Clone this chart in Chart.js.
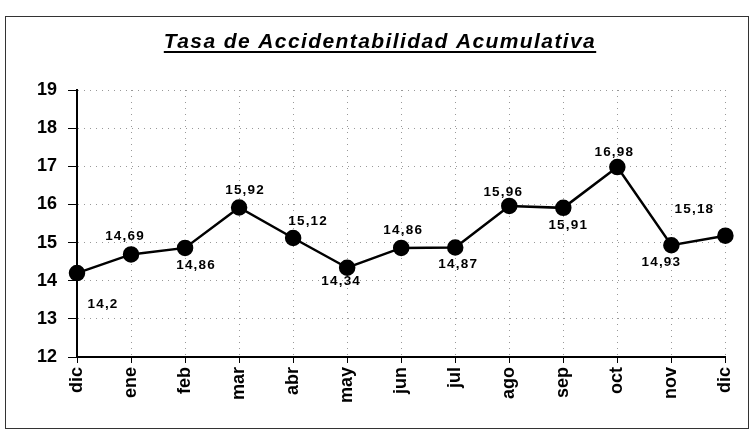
<!DOCTYPE html>
<html>
<head>
<meta charset="utf-8">
<script src="https://cdn.jsdelivr.net/npm/chart.js"></script>
<style>
  html, body { margin: 0; padding: 0; background: #fff; }
  #wrap { width: 751px; height: 436px; position: relative; }
</style>
</head>
<body>
<div id="wrap"><canvas id="tasaChart" width="751" height="436"></canvas></div>
<script>
// data
const chartTitle = 'Tasa de Accidentabilidad Acumulativa';
const months = ['dic', 'ene', 'feb', 'mar', 'abr', 'may', 'jun', 'jul', 'ago', 'sep', 'oct', 'nov', 'dic'];
const tasa = [14.2, 14.69, 14.86, 15.92, 15.12, 14.34, 14.86, 14.87, 15.96, 15.91, 16.98, 14.93, 15.18];
const yTicks = [12, 13, 14, 15, 16, 17, 18, 19];

// label offsets from each point (px)
const labelOffsets = [[26, 31], [-6, -18], [11, 17], [6, -17], [15, -17], [-6, 14], [2, -18],
    [3, 17], [-6, -14], [5, 17], [-3, -15], [-10, 17], [-31, -26]];

const fmt = v => v.toString().replace('.', ',');

// title, frame and point labels
const decorations = {
    id: 'decorations',
    afterDraw(chart) {
        const ctx = chart.ctx;
        ctx.save();
        // outer frame
        ctx.strokeStyle = '#333';
        ctx.lineWidth = 1;
        ctx.strokeRect(5.5, 16.5, 743, 412);

        // title
        ctx.fillStyle = '#000';
        ctx.font = 'italic bold 21px "Liberation Sans", Arial, sans-serif';
        ctx.letterSpacing = '1.4px';
        ctx.textAlign = 'center';
        ctx.textBaseline = 'alphabetic';
        ctx.fillText(chartTitle, 380, 48);
        const w = ctx.measureText(chartTitle).width;
        ctx.fillRect(380 - w / 2, 51, w, 2);

        // value labels
        const meta = chart.getDatasetMeta(0);
        ctx.font = 'bold 13.5px "Liberation Sans", Arial, sans-serif';
        ctx.letterSpacing = '1.2px';
        ctx.textBaseline = 'middle';
        meta.data.forEach((pt, i) => {
            const off = labelOffsets[i];
            ctx.fillText(fmt(tasa[i]), pt.x + off[0], pt.y + off[1]);
        });
        ctx.restore();
    }
};

const ctx = document.getElementById('tasaChart').getContext('2d');
const tasaChart = new Chart(ctx, {
    type: 'line',
    data: {
        labels: months,
        datasets: [{
            data: tasa,
            borderColor: '#000',
            borderWidth: 2.5,
            backgroundColor: '#000',
            pointRadius: 7,
            pointBackgroundColor: '#000',
            pointBorderColor: '#000',
            tension: 0
        }]
    },
    options: {
        responsive: false,
        animation: false,
        layout: { padding: { left: 0, top: 90, right: 23, bottom: 0 } },
        plugins: {
            legend: { display: false },
            tooltip: { enabled: false }
        },
        scales: {
            x: {
                afterFit: scale => { scale.height = 79; },
                grid: {
                    color: '#999',
                    tickColor: '#000',
                    tickLength: 6
                },
                border: { color: '#000', width: 2, dash: [1, 5] },
                ticks: {
                    color: '#000',
                    maxRotation: 90,
                    minRotation: 90,
                    autoSkip: false,
                    padding: 4,
                    font: { family: '"Liberation Sans", Arial, sans-serif', size: 18, weight: 'bold' }
                }
            },
            y: {
                min: 12,
                max: 19,
                afterFit: scale => { scale.width = 77; },
                afterBuildTicks: scale => { scale.ticks = yTicks.map(v => ({ value: v })); },
                grid: {
                    color: '#999',
                    tickColor: '#000',
                    tickLength: 9
                },
                border: { color: '#000', width: 2, dash: [1, 5] },
                ticks: {
                    color: '#000',
                    padding: 11,
                    font: { family: '"Liberation Sans", Arial, sans-serif', size: 18, weight: 'bold' }
                }
            }
        }
    },
    plugins: [decorations]
});
</script>
</body>
</html>
